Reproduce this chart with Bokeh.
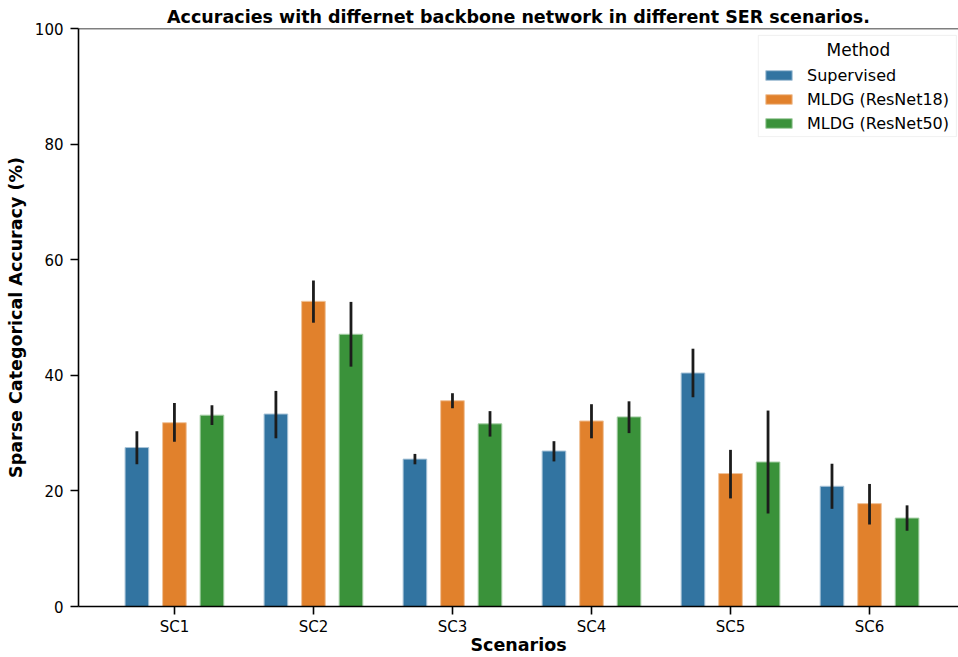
import numpy as np
from bokeh.plotting import figure
from bokeh.models import Range1d, Span, Legend, LegendItem, FixedTicker, Label, BoxAnnotation
from bokeh.embed import file_html
from bokeh.resources import INLINE

scenarios = ["SC1", "SC2", "SC3", "SC4", "SC5", "SC6"]
methods = ["Supervised", "MLDG (ResNet18)", "MLDG (ResNet50)"]

supervised = [27.5, 33.3, 25.5, 26.9, 40.4, 20.8]
supervised_lo = [24.6, 29.1, 24.6, 25.1, 36.2, 16.9]
supervised_hi = [30.3, 37.3, 26.4, 28.6, 44.6, 24.7]

resnet18 = [31.8, 52.8, 35.6, 32.1, 23.0, 17.8]
resnet18_lo = [28.5, 49.1, 34.3, 29.1, 18.7, 14.2]
resnet18_hi = [35.2, 56.4, 36.9, 35.0, 27.1, 21.2]

resnet50 = [33.1, 47.1, 31.6, 32.8, 25.0, 15.3]
resnet50_lo = [31.4, 41.5, 29.4, 30.0, 16.1, 13.1]
resnet50_hi = [34.8, 52.7, 33.8, 35.5, 33.9, 17.5]

y_ticks = [0, 20, 40, 60, 80, 100]

colors = ["#3274a1", "#e1812c", "#3a923a"]
edge_colors = ["#a9c4d8", "#f0c39b", "#a6cfa6"]
series = [
    (supervised, supervised_lo, supervised_hi),
    (resnet18, resnet18_lo, resnet18_hi),
    (resnet50, resnet50_lo, resnet50_hi),
]
offsets = [-0.27, 0.0, 0.27]
FONT = "DejaVu Sans"

p = figure(width=958, height=657, output_backend="svg", toolbar_location=None,
           x_range=Range1d(-0.69, 5.64), y_range=Range1d(0, 100),
           min_border_left=78, min_border_right=0, min_border_top=28, min_border_bottom=51)

p.title.text = "Accuracies with differnet backbone network in different SER scenarios."
p.title.align = "center"
p.title.text_font = FONT
p.title.text_font_size = "17.5px"
p.title.text_font_style = "bold"
p.title.text_color = "black"
p.title.standoff = 3

centers = np.arange(len(scenarios))
items = []
for i, (vals, lo, hi) in enumerate(series):
    xs = centers + offsets[i]
    r = p.vbar(x=xs, top=vals, bottom=0, width=0.17, fill_color=colors[i],
               line_color=edge_colors[i], line_width=1)
    p.segment(x0=xs, y0=lo, x1=xs, y1=hi, line_color="#1c1c1c", line_width=2.8)
    items.append(LegendItem(label=methods[i], renderers=[r]))

# legend frame (drawn separately so that the centred title can sit on top)
p.add_layout(BoxAnnotation(left=4.20, right=5.625, top=98.8, bottom=81.3,
                           fill_color="white", fill_alpha=0.85,
                           line_color="#cccccc", line_width=1))
p.add_layout(Label(x=4.92, y=96.2, text="Method", text_align="center", text_baseline="middle",
                   text_font=FONT, text_font_size="17px", text_color="black"))

legend = Legend(items=items, location=(684, 473), title="Method")
legend.title_text_font = FONT
legend.title_text_font_size = "17px"
legend.title_text_font_style = "normal"
legend.title_text_alpha = 0.0
legend.title_standoff = 5
legend.label_text_font = FONT
legend.label_text_font_size = "16px"
legend.label_text_color = "black"
legend.glyph_width = 33
legend.glyph_height = 12
legend.label_height = 20
legend.spacing = 4
legend.label_standoff = 12
legend.padding = 6
legend.margin = 0
legend.border_line_color = None
legend.background_fill_alpha = 0.0
p.add_layout(legend)

p.add_layout(Span(location=100, dimension="width", line_color="black", line_width=1.6))

p.xgrid.visible = False
p.ygrid.visible = False
p.outline_line_color = None

p.xaxis.ticker = FixedTicker(ticks=list(centers))
p.xaxis.major_label_overrides = {int(i): s for i, s in enumerate(scenarios)}
p.yaxis.ticker = FixedTicker(ticks=y_ticks)

for ax in (p.xaxis[0], p.yaxis[0]):
    ax.axis_line_width = 1.6
    ax.axis_line_color = "black"
    ax.major_tick_line_width = 1.6
    ax.major_tick_out = 8
    ax.major_tick_in = 0
    ax.minor_tick_line_color = None
    ax.major_label_text_font = FONT
    ax.major_label_text_font_size = "15px"
    ax.major_label_text_color = "black"
    ax.axis_label_text_font = FONT
    ax.axis_label_text_font_size = "17.5px"
    ax.axis_label_text_font_style = "bold"
    ax.axis_label_text_color = "black"

p.xaxis.axis_label = "Scenarios"
p.yaxis.axis_label = "Sparse Categorical Accuracy (%)"
p.xaxis.major_label_standoff = 3
p.xaxis.axis_label_standoff = -4
p.yaxis.major_label_standoff = 7
p.yaxis.axis_label_standoff = 6

open("out.html", "w").write(file_html(p, INLINE))
